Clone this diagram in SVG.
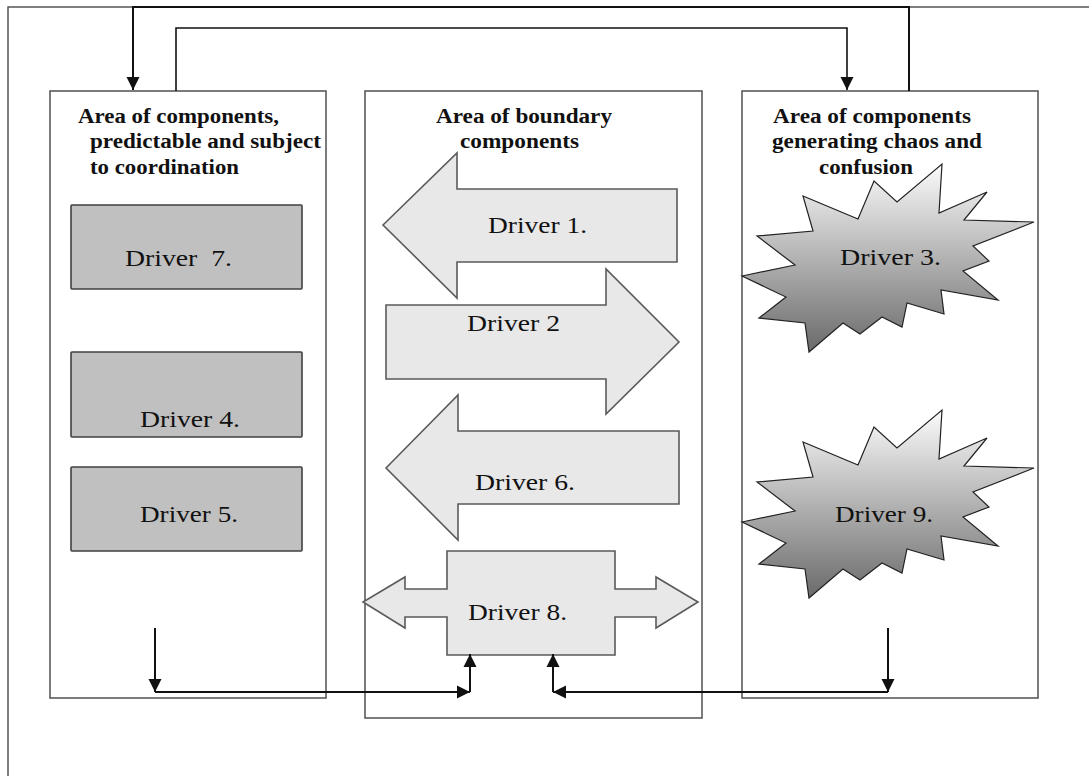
<svg xmlns="http://www.w3.org/2000/svg" width="1089" height="776" viewBox="0 0 1089 776">
<defs>
<marker id="ah" markerUnits="userSpaceOnUse" markerWidth="14" markerHeight="14" refX="13" refY="7" orient="auto"><path d="M0,0.5 L13,7 L0,13.5 z" fill="#111"/></marker>
<linearGradient id="star" x1="0" y1="0" x2="0" y2="1"><stop offset="0" stop-color="#fbfbfb"/><stop offset="1" stop-color="#6a6a6a"/></linearGradient>
<style>
.area{fill:#fff;stroke:#5a5a5a;stroke-width:1.6}
.title{font-family:"Liberation Serif","Times New Roman",serif;font-weight:bold;font-size:20px;fill:#111}
.lbl{font-family:"Liberation Serif","Times New Roman",serif;font-size:24px;fill:#111}
.grey{fill:#c0c0c0;stroke:#404040;stroke-width:1.6}
.arr{fill:#e8e8e8;stroke:#5a5a5a;stroke-width:1.6;stroke-linejoin:miter}
.starb{fill:url(#star);stroke:#222;stroke-width:1.2}
.con{fill:none;stroke:#111;stroke-width:2}
.frame{fill:none;stroke:#555;stroke-width:1.5}
</style>
</defs>
<rect width="1089" height="776" fill="#fff"/>
<path class="frame" d="M8,776 V7 H1089" id="frame"/>

<g id="area-left">
<rect class="area" x="50" y="91" width="276" height="607"/>
<text class="title" x="78" y="123" textLength="201" lengthAdjust="spacingAndGlyphs">Area of components,</text>
<text class="title" x="90" y="148" textLength="231" lengthAdjust="spacingAndGlyphs">predictable and subject</text>
<text class="title" x="90" y="174" textLength="149" lengthAdjust="spacingAndGlyphs">to coordination</text>
</g>
<g id="area-middle">
<rect class="area" x="365" y="91" width="337" height="627"/>
<text class="title" x="436" y="123" textLength="176" lengthAdjust="spacingAndGlyphs">Area of boundary</text>
<text class="title" x="460" y="148" textLength="119" lengthAdjust="spacingAndGlyphs">components</text>
</g>
<g id="area-right">
<rect class="area" x="742" y="91" width="296" height="607"/>
<text class="title" x="773" y="123" textLength="198" lengthAdjust="spacingAndGlyphs">Area of components</text>
<text class="title" x="772" y="148" textLength="210" lengthAdjust="spacingAndGlyphs">generating chaos and</text>
<text class="title" x="819" y="174" textLength="94" lengthAdjust="spacingAndGlyphs">confusion</text>
</g>

<g id="driver7">
<rect class="grey" x="71" y="205" width="231" height="84" rx="1"/>
<text class="lbl" x="125" y="266" xml:space="preserve" textLength="107" lengthAdjust="spacingAndGlyphs">Driver  7.</text>
</g>
<g id="driver4">
<rect class="grey" x="71" y="352" width="231" height="85" rx="1"/>
<text class="lbl" x="140" y="427" textLength="100" lengthAdjust="spacingAndGlyphs">Driver 4.</text>
</g>
<g id="driver5">
<rect class="grey" x="71" y="467" width="231" height="84" rx="1"/>
<text class="lbl" x="140" y="522" textLength="98" lengthAdjust="spacingAndGlyphs">Driver 5.</text>
</g>

<g id="driver1">
<polygon class="arr" points="383,225 457,153 457,189 677,189 677,262 457,262 457,298"/>
<text class="lbl" x="488" y="233" textLength="99" lengthAdjust="spacingAndGlyphs">Driver 1.</text>
</g>
<g id="driver2">
<polygon class="arr" points="386,305 606,305 606,269 679,342 606,414 606,379 386,379"/>
<text class="lbl" x="467" y="331" textLength="93" lengthAdjust="spacingAndGlyphs">Driver 2</text>
</g>
<g id="driver6">
<polygon class="arr" points="386,468 458,395 458,431 679,431 679,504 458,504 458,540"/>
<text class="lbl" x="475" y="490" textLength="100" lengthAdjust="spacingAndGlyphs">Driver 6.</text>
</g>
<g id="driver8">
<polygon class="arr" points="447,551 615,551 615,589 656,589 656,577 698,602 656,628 656,617 615,617 615,655 447,655 447,617 405,617 405,628 363,602 405,577 405,589 447,589"/>
<text class="lbl" x="468" y="620" textLength="99" lengthAdjust="spacingAndGlyphs">Driver 8.</text>
</g>

<g id="driver3">
<polygon class="starb" points="742,276 795,265 757,236 813,231 803,196 858,219 874,181 897,202 942,164 939,213 987,192 964,220 1034,222 973,246 989,261 963,271 998,300 941,290 944,314 907,303 902,327 882,317 860,334 843,323 809,352 805,323 759,318 786,297"/>
<text class="lbl" x="840" y="265" textLength="101" lengthAdjust="spacingAndGlyphs">Driver 3.</text>
</g>
<g id="driver9">
<polygon class="starb" transform="translate(0,246)" points="742,276 795,265 757,236 813,231 803,196 858,219 874,181 897,202 942,164 939,213 987,192 964,220 1034,222 973,246 989,261 963,271 998,300 941,290 944,314 907,303 902,327 882,317 860,334 843,323 809,352 805,323 759,318 786,297"/>
<text class="lbl" x="835" y="522" textLength="98" lengthAdjust="spacingAndGlyphs">Driver 9.</text>
</g>

<g id="connectors">
<path class="con" d="M909,91 V7 H133 V90" marker-end="url(#ah)"/>
<path class="con" d="M176,91 V28 H847 V90" marker-end="url(#ah)" style="stroke-width:1.6"/>
<line class="con" x1="155" y1="628" x2="155" y2="692" marker-end="url(#ah)"/>
<line class="con" x1="155" y1="692" x2="470" y2="692" marker-end="url(#ah)"/>
<line class="con" x1="470" y1="692" x2="470" y2="654" marker-end="url(#ah)"/>
<line class="con" x1="888" y1="628" x2="888" y2="692" marker-end="url(#ah)"/>
<line class="con" x1="888" y1="692" x2="553" y2="692" marker-end="url(#ah)"/>
<line class="con" x1="553" y1="692" x2="553" y2="654" marker-end="url(#ah)"/>
</g>
</svg>
